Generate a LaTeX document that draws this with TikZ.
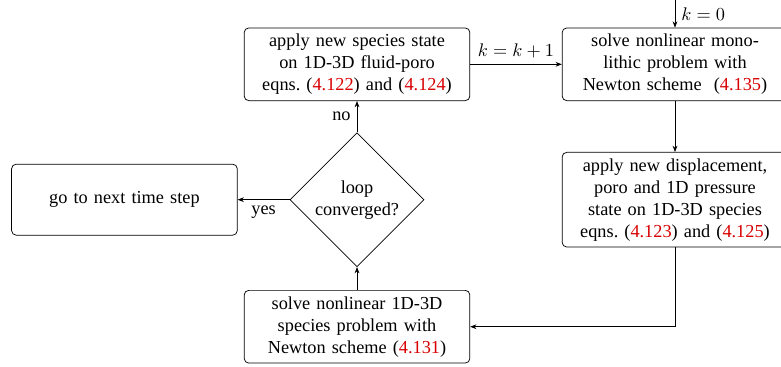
\documentclass[tikz,border=0pt]{standalone}
\usepackage{fontspec}
\setmainfont{Liberation Serif}
\usetikzlibrary{arrows.meta,shapes.geometric}
\definecolor{eqred}{HTML}{D80000}
\newcommand{\eqnum}[1]{(\textcolor{eqred}{#1})}

\begin{document}
\begin{tikzpicture}[
  >={Stealth[length=3.4pt,width=2.6pt]},
  process/.style={draw,rounded corners=2.5pt,align=center,text width=4.1cm,
    minimum height=1.345cm,font=\fontsize{10}{12}\selectfont},
  decision/.style={draw,diamond,aspect=1,minimum size=2.574cm,inner sep=0pt,
    align=center,font=\fontsize{10}{12}\selectfont},
  flowlabel/.style={font=\fontsize{10}{12}\selectfont}
]
\clip (0,0) rectangle (15,-7.048);

% Steps of the coupled iteration
\node[process] (applyspecies) at (6.857,-1.235)
  {apply new species state\\ on 1D-3D fluid-poro\\ eqns.~\eqnum{4.122} and \eqnum{4.124}};
\node[process] (solvemono) at (12.964,-1.235)
  {solve nonlinear mono-\\ lithic problem with\\ Newton scheme ~\eqnum{4.135}};
\node[process,minimum height=1.786cm] (applydisp) at (12.964,-3.835)
  {apply new displacement,\\ poro and 1D pressure\\ state on 1D-3D species\\ eqns.~\eqnum{4.123} and \eqnum{4.125}};
\node[process] (solvespecies) at (6.857,-6.275)
  {solve nonlinear 1D-3D\\ species problem with\\ Newton scheme \eqnum{4.131}};
\node[decision] (converged) at (6.857,-3.835) {loop\\ converged?};
\node[process,minimum height=1.364cm] (nexttime) at (2.39,-3.835)
  {go to next time step};
\coordinate (entry) at (12.964,0);

% Flow
\draw[->] (entry) -- node[flowlabel,right] {$k=0$} (solvemono);
\draw[->] (applyspecies) -- node[flowlabel,above] {$k=k+1$} (solvemono);
\draw[->] (solvemono) -- (applydisp);
\draw[->] (applydisp) |- (solvespecies);
\draw[->] (solvespecies) -- (converged);
\draw[->] (converged) -- node[flowlabel,left] {no} (applyspecies);
\draw[->] (converged) -- node[flowlabel,below] {yes} (nexttime);

\end{tikzpicture}
\end{document}
